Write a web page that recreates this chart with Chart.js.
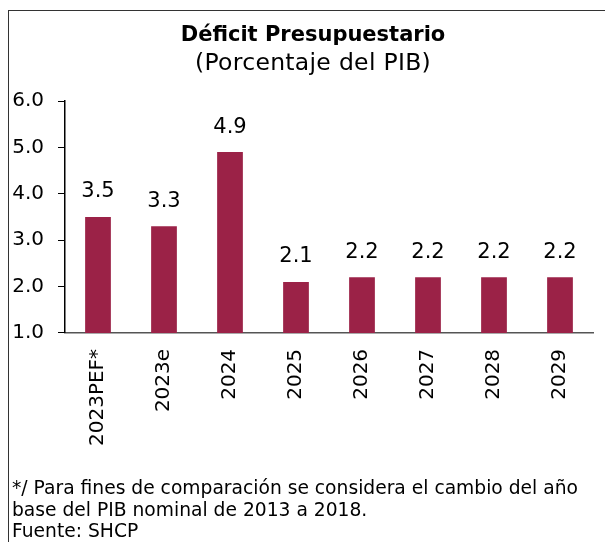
<!DOCTYPE html>
<html>
<head>
<meta charset="utf-8">
<script src="https://cdn.jsdelivr.net/npm/chart.js@4.4.1/dist/chart.umd.min.js"></script>
<style>
  body { margin: 0; background: #fff; }
  #marco { position: absolute; left: 8px; top: 10px; width: 700px; height: 600px;
           border-left: 1.5px solid #333; border-top: 1.5px solid #333; }
  #grafica { position: absolute; left: 0; top: 0; width: 605px; height: 542px; }
  #nota { position: absolute; left: 12px; top: 477px; font: 18.7px "DejaVu Sans", sans-serif;
          line-height: 21.5px; color: #000; white-space: nowrap; }
</style>
</head>
<body>
<div id="marco"></div>
<div id="grafica"><canvas id="deficitChart" width="605" height="542"></canvas></div>
<div id="nota">*/ Para fines de comparación se considera el cambio del año<br>base del PIB nominal de 2013 a 2018.<br>Fuente: SHCP</div>
<script>
const categorias = ["2023PEF*", "2023e", "2024", "2025", "2026", "2027", "2028", "2029"];
const deficit = [3.5, 3.3, 4.9, 2.1, 2.2, 2.2, 2.2, 2.2];
const ticksY = [1, 2, 3, 4, 5, 6];

const titulo = 'Déficit Presupuestario';
const subtitulo = '(Porcentaje del PIB)';
const fuente = '"DejaVu Sans"';

// titulo centrado sobre la caja
const encabezado = {
  id: 'encabezado',
  afterDraw(chart) {
    const ctx = chart.ctx;
    ctx.save();
    ctx.fillStyle = '#000';
    ctx.textAlign = 'center';
    ctx.textBaseline = 'alphabetic';
    ctx.font = 'bold 21px ' + fuente;
    ctx.fillText(titulo, 313, 41);
    ctx.font = '23.5px ' + fuente;
    ctx.letterSpacing = '0.3px';
    ctx.fillText(subtitulo, 313, 70);
    ctx.restore();
  }
};

// valores encima de cada barra
const etiquetas = {
  id: 'etiquetas',
  afterDatasetsDraw(chart) {
    const ctx = chart.ctx;
    const meta = chart.getDatasetMeta(0);
    ctx.save();
    ctx.font = '21px ' + fuente;
    ctx.fillStyle = '#000';
    ctx.textAlign = 'center';
    ctx.textBaseline = 'alphabetic';
    meta.data.forEach((bar, i) => {
      ctx.fillText(deficit[i].toFixed(1), bar.x, bar.y - 19.5);
    });
    ctx.restore();
  }
};

const ctx = document.getElementById('deficitChart').getContext('2d');
new Chart(ctx, {
  type: 'bar',
  data: {
    labels: categorias,
    datasets: [{
      label: 'Déficit',
      data: deficit,
      backgroundColor: '#9B2247',
      barPercentage: 0.39,
      categoryPercentage: 1
    }]
  },
  options: {
    responsive: false,
    animation: false,
    layout: { padding: { left: 0, right: 12, top: 101, bottom: 88 } },
    plugins: {
      legend: { display: false },
      tooltip: { enabled: false }
    },
    scales: {
      x: {
        grid: { display: false },
        border: { display: true, color: '#555', width: 1.5 },
        ticks: {
          color: '#000',
          font: { family: fuente, size: 20 },
          maxRotation: 90,
          minRotation: 90,
          padding: 8
        }
      },
      y: {
        min: ticksY[0],
        max: ticksY[ticksY.length - 1],
        afterFit(scale) { scale.width = 65; },
        afterBuildTicks(scale) { scale.ticks = ticksY.map(v => ({ value: v })); },
        grid: { drawOnChartArea: false, drawTicks: true, tickLength: 7, color: '#000' },
        border: { display: true, color: '#000', width: 1.5 },
        ticks: {
          color: '#000',
          font: { family: fuente, size: 20 },
          padding: 14,
          callback: v => v.toFixed(1)
        }
      }
    }
  },
  plugins: [etiquetas, encabezado]
});
</script>
</body>
</html>
